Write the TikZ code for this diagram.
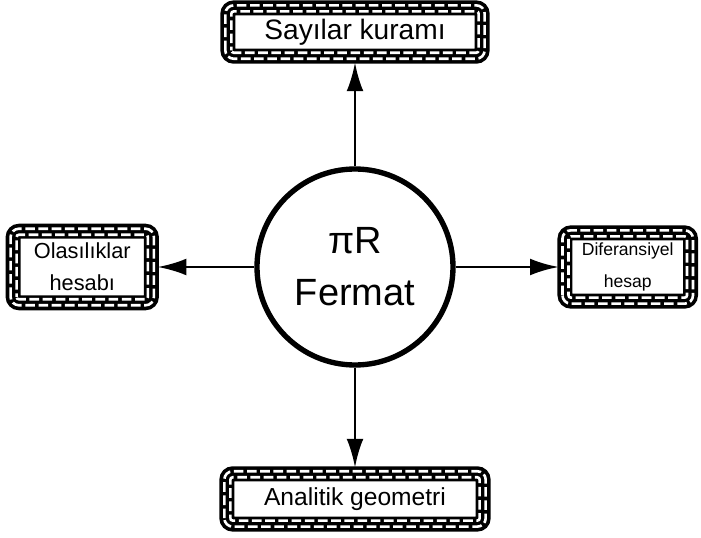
\documentclass[tikz,border=0pt]{standalone}
\usepackage{fontspec}
\setmainfont{Liberation Sans}
\usetikzlibrary{positioning,arrows.meta,calc}

% brick-wall frame drawn round a named node
\newcommand{\brickframe}[1]{%
  \draw[line width=0.34cm, rounded corners=0.13cm]
    ($(#1.south west)+(0.17,0.17)$) rectangle ($(#1.north east)-(0.17,0.17)$);
  \draw[white, line width=0.065cm, rounded corners=0.21cm,
        dash pattern=on 0.24cm off 0.09cm]
    ($(#1.south west)+(0.09,0.09)$) rectangle ($(#1.north east)-(0.09,0.09)$);
  \draw[white, line width=0.065cm, rounded corners=0.06cm,
        dash pattern=on 0.24cm off 0.09cm, dash phase=0.15cm]
    ($(#1.south west)+(0.24,0.24)$) rectangle ($(#1.north east)-(0.24,0.24)$);
  \draw[line width=2pt, rounded corners=0.3cm]
    (#1.south west) rectangle (#1.north east);
}

\begin{document}
\begin{tikzpicture}[
        hub/.style={circle, draw, line width=3.8pt, minimum size=4.9cm,
                    align=center, font=\fontsize{27}{37}\selectfont},
        brick/.style={rectangle, align=center, inner sep=0pt},
        arr/.style={-{Latex[length=0.72cm, width=0.42cm]}, line width=2pt}
      ]
        \useasboundingbox (-8.875,-6.75) rectangle (8.65,6.675);

        \node[hub] (fermat) at (0,0) {πR\\Fermat};

        \node[brick, minimum width=6.65cm, minimum height=1.5cm,
              above=2.6cm of fermat, font=\fontsize{20}{24}\selectfont] (sayilar) {Sayılar kuramı};
        \node[brick, minimum width=3.75cm, minimum height=2.08cm,
              left=2.42cm of fermat, font=\fontsize{15.5}{23}\selectfont] (olasilik) {Olasılıklar\\hesabı};
        \node[brick, minimum width=3.43cm, minimum height=2cm,
              right=2.58cm of fermat, font=\fontsize{12.5}{23}\selectfont] (diferansiyel) {Diferansiyel\\hesap};
        \node[brick, minimum width=6.7cm, minimum height=1.55cm,
              below=2.5cm of fermat, font=\fontsize{17.5}{20}\selectfont] (analitik) {Analitik geometri};

        \brickframe{sayilar}
        \brickframe{olasilik}
        \brickframe{diferansiyel}
        \brickframe{analitik}

        \draw[arr] (fermat) -- (sayilar);
        \draw[arr] (fermat) -- (olasilik);
        \draw[arr] (fermat) -- (diferansiyel);
        \draw[arr] (fermat) -- (analitik);
      \end{tikzpicture}
\end{document}
